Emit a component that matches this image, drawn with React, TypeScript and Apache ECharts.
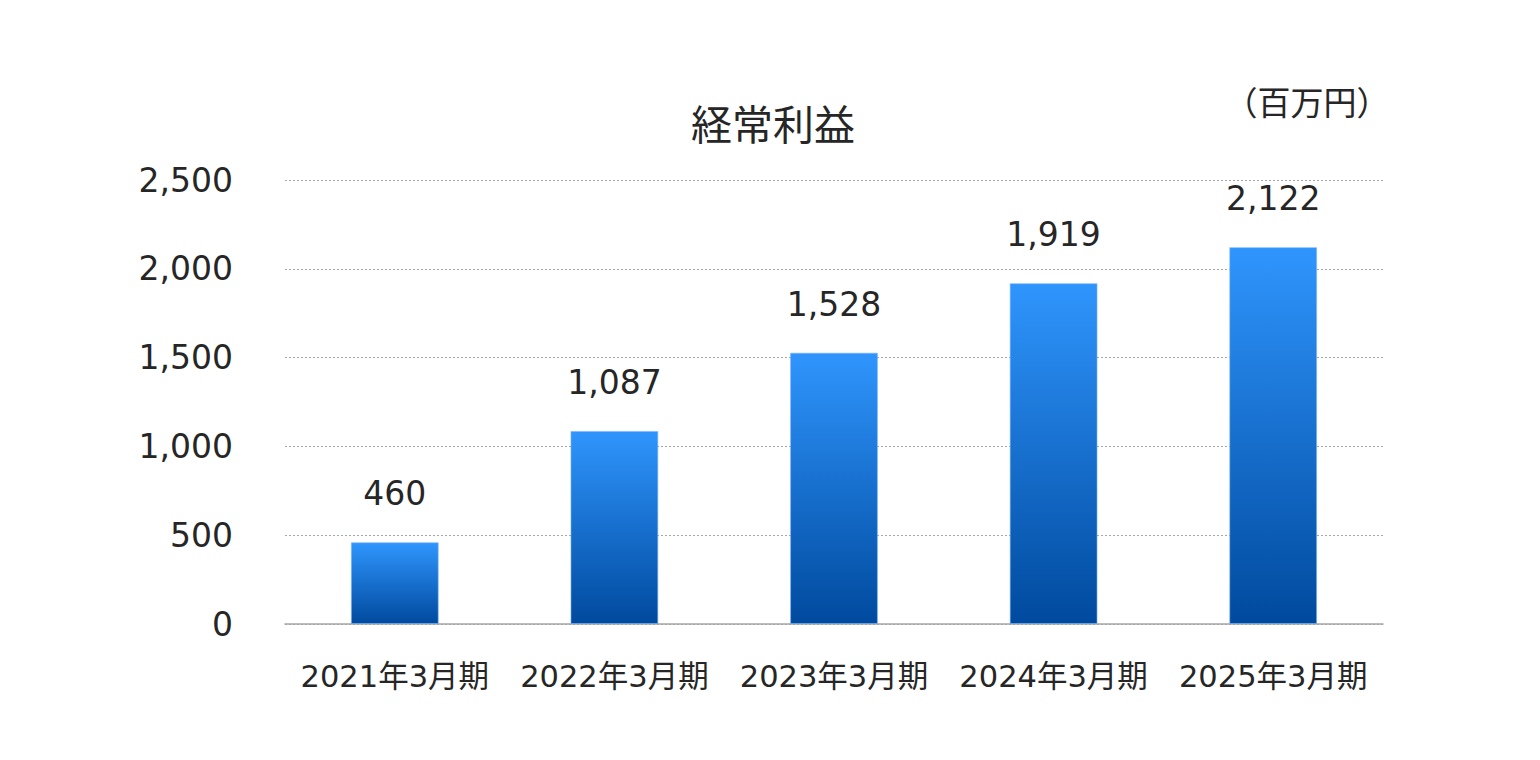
import * as echarts from 'echarts'
import { useEffect, useRef } from 'react'

const categories = ['2021年3月期', '2022年3月期', '2023年3月期', '2024年3月期', '2025年3月期']
const values = [460, 1087, 1528, 1919, 2122]
const chartTitle = '経常利益'
const unitLabel = '（百万円）'

const FONT = "'DejaVu Sans', 'Noto Sans CJK JP', sans-serif"
const CJK_FONT = "'Noto Sans CJK JP', sans-serif"
const TEXT = '#262626'

export default function App() {
  const chartRef = useRef<HTMLDivElement>(null)

  useEffect(() => {
    document.body.style.margin = '0'
    if (!chartRef.current) return
    const chart = echarts.init(chartRef.current, undefined, { renderer: 'svg' })

    const option: any = {
      animation: false,
      backgroundColor: '#fff',
      grid: { left: 285, right: 157, top: 180, bottom: 136, containLabel: false },
      graphic: [
        {
          type: 'text',
          x: 773,
          y: 126,
          style: {
            text: chartTitle,
            fontSize: 41,
            fontFamily: FONT,
            fill: TEXT,
            align: 'center',
            verticalAlign: 'middle'
          }
        },
        {
          type: 'text',
          x: 1307,
          y: 101,
          style: {
            text: unitLabel,
            fontSize: 33,
            fontFamily: CJK_FONT,
            fill: TEXT,
            align: 'center',
            verticalAlign: 'middle'
          }
        }
      ],
      xAxis: {
        type: 'category',
        data: categories,
        axisLine: { lineStyle: { color: '#a6a6a6', width: 1.5 } },
        axisTick: { show: false },
        axisLabel: { interval: 0, color: TEXT, fontSize: 30.5, fontFamily: FONT, margin: 37 }
      },
      yAxis: {
        type: 'value',
        min: 0,
        max: 2500,
        interval: 500,
        axisLine: { show: false },
        axisTick: { show: false },
        axisLabel: {
          color: TEXT,
          fontSize: 33,
          fontFamily: FONT,
          margin: 52,
          formatter: (v: number) => v.toLocaleString('en-US')
        },
        splitLine: { lineStyle: { color: '#a6a6a6', type: [2, 2], width: 1 } }
      },
      series: [
        {
          type: 'bar',
          data: values,
          barWidth: '40%',
          itemStyle: {
            color: new echarts.graphic.LinearGradient(0, 0, 0, 1, [
              { offset: 0, color: '#2f95fd' },
              { offset: 1, color: '#004a9e' }
            ]),
            borderColor: 'rgba(120,180,255,0.6)',
            borderWidth: 1
          },
          label: {
            show: true,
            position: 'top',
            distance: 32,
            color: TEXT,
            fontSize: 33,
            fontFamily: FONT,
            formatter: (p: any) => Number(p.value).toLocaleString('en-US')
          }
        }
      ]
    }

    chart.setOption(option)

    return () => {
      chart.dispose()
    }
  }, [])

  return <div ref={chartRef} style={{ width: '1540px', height: '760px' }} />
}
